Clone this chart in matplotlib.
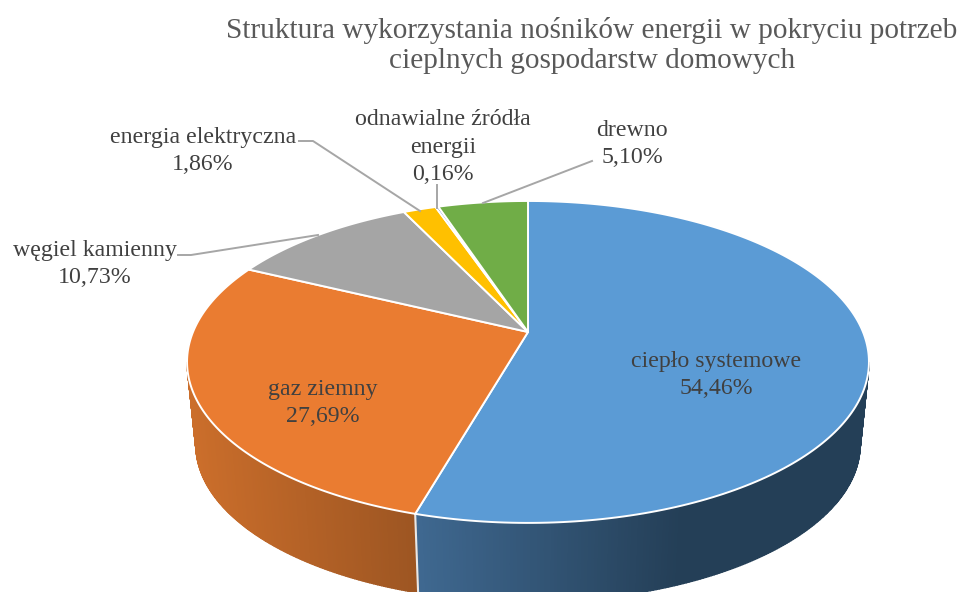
import numpy as np
import matplotlib
matplotlib.use("Agg")
import matplotlib.pyplot as plt

plt.rcParams['font.family'] = ['Liberation Serif', 'DejaVu Serif']

titleText = "Struktura wykorzystania nośników energii w pokryciu potrzeb\ncieplnych gospodarstw domowych"
names = ["ciepło systemowe", "gaz ziemny", "węgiel kamienny", "energia elektryczna",
         "odnawialne źródła\nenergii", "drewno"]
shares = [54.46, 27.69, 10.73, 1.86, 0.16, 5.10]
shareLabels = ["54,46%", "27,69%", "10,73%", "1,86%", "0,16%", "5,10%"]
colors = ["#5B9BD5", "#EA7C31", "#A5A5A5", "#FFC000", "#4472C4", "#70AD47"]
labelPos = [(716, 375), (323, 403), (95, 264), (203, 151), (443, 147), (632, 144)]
leaders = [None, None,
           [(178, 255), (191, 255), (318, 235)],
           [(299, 141), (313, 141), (420, 211)],
           [(437, 185), (437, 208)],
           [(592, 161), (483, 203)]]

# projection of the flat disc, pixels of the figure
apexX, apexY = 528, 332
tilt = 0.186
scaleU, scaleV = 335, 155.4
midY = 362
baseY = 445
baseScale = 0.974


def project(angle):
    u = np.sin(angle)
    v = np.cos(angle)
    d = 1 + tilt * v
    return apexX + scaleU * u / d, apexY - scaleV * v / d


def projectBase(angle):
    x, y = project(angle)
    return apexX + baseScale * (x - apexX), baseY + baseScale * (y - midY)


def drawSide(ax, start, end, xRange, leftColor, rightColor):
    edges = np.linspace(start, end, 200)
    left = np.array(matplotlib.colors.to_rgb(leftColor))
    right = np.array(matplotlib.colors.to_rgb(rightColor))
    for a, b in zip(edges[:-1], edges[1:]):
        x1, y1 = project(a)
        x2, y2 = project(b)
        x3, y3 = projectBase(b)
        x4, y4 = projectBase(a)
        f = np.clip((((x1 + x2) / 2) - xRange[0]) / (xRange[1] - xRange[0]), 0, 1)
        c = left + (right - left) * f
        ax.fill([x1, x2, x3, x4], [y1, y2, y3, y4], color=c, lw=1.0, zorder=1)


fig = plt.figure(figsize=(9.6, 5.92), dpi=100)
ax = fig.add_axes([0, 0, 1, 1])
ax.set_xlim(0, 960)
ax.set_ylim(592, 0)
ax.axis("off")

bounds = np.radians(np.concatenate([[0], np.cumsum(shares)]) * 3.6)
edgeAngle = np.arccos(-tilt)

# side wall, only the two big slices reach the front
drawSide(ax, edgeAngle, bounds[1], (418, 680), "#3F6890", "#243F57")
drawSide(ax, bounds[1], 2 * np.pi - edgeAngle, (190, 418), "#CB6E2B", "#9C5522")

seamX, seamY = project(bounds[1])
baseX, baseEnd = projectBase(bounds[1])
ax.plot([seamX, baseX], [seamY, baseEnd], color="#E8E8E8", lw=1.5, zorder=2)

# top of the pie
for i in range(len(shares)):
    arc = np.linspace(bounds[i], bounds[i + 1], 200)
    x, y = project(arc)
    ax.fill(np.r_[apexX, x], np.r_[apexY, y], facecolor=colors[i], edgecolor="white",
            lw=1.4, joinstyle="round", zorder=3)

for i in range(len(names)):
    ax.text(labelPos[i][0], labelPos[i][1], names[i] + "\n" + shareLabels[i], ha="center", va="center",
            fontsize=17.2, color="#404040", linespacing=1.38, zorder=5)
    if leaders[i] is not None:
        ax.plot([p[0] for p in leaders[i]], [p[1] for p in leaders[i]], color="#A6A6A6", lw=1.4, zorder=4)

ax.text(592, 45.5, titleText, ha="center", va="center", fontsize=21.05, color="#595959", linespacing=1.2)

fig.savefig("out.png", dpi=100)
